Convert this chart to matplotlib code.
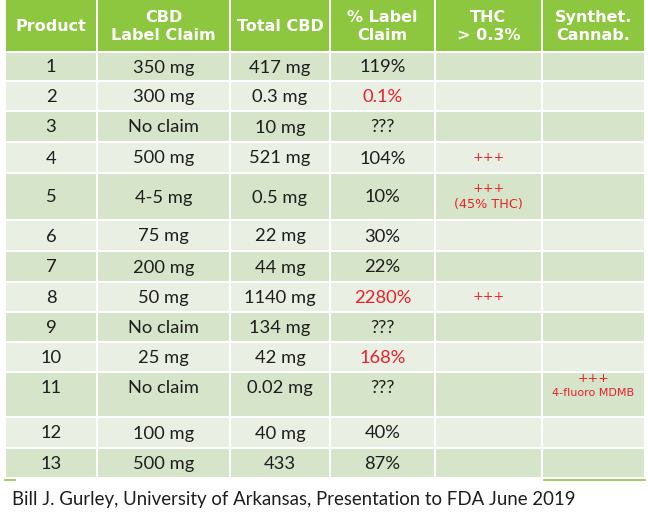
import matplotlib
matplotlib.use('Agg')
import matplotlib.pyplot as plt
from matplotlib.patches import Rectangle

# table content
headers = ['Product', 'CBD\nLabel Claim', 'Total CBD', '% Label\nClaim', 'THC\n> 0.3%', 'Synthet.\nCannab.']
products = ['1', '2', '3', '4', '5', '6', '7', '8', '9', '10', '11', '12', '13']
label_claim = ['350 mg', '300 mg', 'No claim', '500 mg', '4-5 mg', '75 mg', '200 mg',
               '50 mg', 'No claim', '25 mg', 'No claim', '100 mg', '500 mg']
total_cbd = ['417 mg', '0.3 mg', '10 mg', '521 mg', '0.5 mg', '22 mg', '44 mg',
             '1140 mg', '134 mg', '42 mg', '0.02 mg', '40 mg', '433']
pct_claim = ['119%', '0.1%', '???', '104%', '10%', '30%', '22%',
             '2280%', '???', '168%', '???', '40%', '87%']
pct_red = [False, True, False, False, False, False, False, True, False, True, False, False, False]
thc = ['', '', '', '+++', '+++\n(45% THC)', '', '', '+++', '', '', '', '', '']
synth = ['', '', '', '', '', '', '', '', '', '', '+++\n4-fluoro MDMB', '', '']
caption = 'Bill J. Gurley, University of Arkansas, Presentation to FDA June 2019'

# layout (pixels)
col_edges = [5, 97, 230, 330, 435, 542, 645]
header_h = 52
row_h = [29, 30, 31, 31, 47, 31, 31, 30, 30, 30, 45, 31, 30]

green = '#8DC63F'
odd_bg = '#D6E4C9'
even_bg = '#EAEFE4'
red = '#E8212B'
txt = '#1E1E1E'
gap = 1.3

fig = plt.figure(figsize=(6.48, 5.2), dpi=100)
ax = fig.add_axes([0, 0, 1, 1])
ax.set_xlim(0, 648)
ax.set_ylim(520, 0)
ax.axis('off')

def cell(x0, x1, y0, y1, color):
    ax.add_patch(Rectangle((x0 + gap, y0 + gap), x1 - x0 - 2 * gap, y1 - y0 - 2 * gap,
                           facecolor=color, edgecolor='none'))

# header
for i, h in enumerate(headers):
    x0, x1 = col_edges[i], col_edges[i + 1]
    cell(x0, x1, -2, header_h, green)
    ax.text((x0 + x1) / 2, header_h / 2 + 0.5, h, ha='center', va='center', color='white',
            fontsize=11.5, fontweight='bold', family='DejaVu Sans', linespacing=1.3)

# body rows
y = header_h
for r in range(len(products)):
    h = row_h[r]
    bg = odd_bg if r % 2 == 0 else even_bg
    for c in range(6):
        cell(col_edges[c], col_edges[c + 1], y, y + h, bg)
    ty = y + h / 2 if h < 40 or r == 4 else y + 15
    vals = [products[r], label_claim[r], total_cbd[r], pct_claim[r]]
    for c, v in enumerate(vals):
        color = red if (c == 3 and pct_red[r]) else txt
        ax.text((col_edges[c] + col_edges[c + 1]) / 2, ty + 1, v, ha='center', va='center',
                color=color, fontsize=13.2, family='Lato')
    if thc[r]:
        ax.text((col_edges[4] + col_edges[5]) / 2, y + h / 2, thc[r], ha='center', va='center',
                color=red, fontsize=9.2, family='DejaVu Sans', linespacing=1.3)
    if synth[r]:
        lines = synth[r].split('\n')
        cx = (col_edges[5] + col_edges[6]) / 2
        ax.text(cx, y + 7, lines[0], ha='center', va='center', color=red,
                fontsize=9, family='DejaVu Sans')
        ax.text(cx, y + 21, lines[1], ha='center', va='center', color=red,
                fontsize=8, family='DejaVu Sans')
    y += h

# thin green edge under the table
ax.plot([col_edges[5] + 2, col_edges[6]], [y + 1.5, y + 1.5], color=green, lw=1.2)
ax.plot([col_edges[0], col_edges[0] + 10], [y + 1.5, y + 1.5], color=green, lw=1.2)

ax.text(12, 499, caption, ha='left', va='center', color=txt, fontsize=13.4, family='Lato')

fig.savefig('out.png', dpi=100, facecolor='white')
